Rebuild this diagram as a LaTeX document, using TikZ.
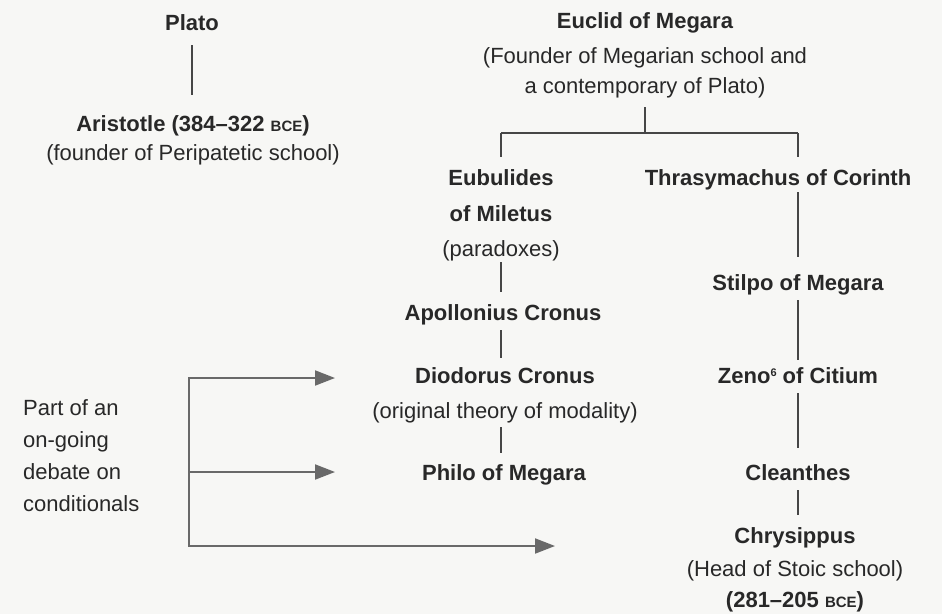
\documentclass[tikz,border=0pt]{standalone}
\usepackage{fontspec}
\setmainfont{Liberation Sans}
\usetikzlibrary{arrows.meta,calc}
\definecolor{paper}{RGB}{247,247,245}
\definecolor{ink}{RGB}{40,40,40}
\definecolor{linec}{RGB}{70,70,70}
\definecolor{arrc}{RGB}{105,105,105}
\newcommand{\mybce}{{\fontsize{15}{15}\selectfont BCE}}
\newcommand{\mysup}[1]{\raisebox{7pt}{\fontsize{11}{11}\selectfont #1}}
\tikzset{
  txt/.style={inner sep=0pt, anchor=base, text height=16pt, text depth=5pt, text=ink, font=\fontsize{22}{26}\selectfont},
  pname/.style={txt, font=\fontsize{22}{26}\selectfont\bfseries},
  lefttxt/.style={txt, anchor=base west},
  conn/.style={draw=linec, line width=1.1pt},
  arrline/.style={draw=arrc, line width=2pt},
  arrtip/.style={arrline, -{Triangle[length=20pt,width=15pt]}},
}
\begin{document}
\begin{tikzpicture}[x=1pt,y=-1pt]
\fill[paper] (0,0) rectangle (942,614);
\useasboundingbox (0,0) rectangle (942,614);

% left column
\node[pname] (plato) at (192,30) {Plato};
\node[pname] (aris) at (193,131) {Aristotle (384--322 \mybce)};
\node[txt] (arisB) at (193,160) {(founder of Peripatetic school)};

% Euclid
\node[pname] (euclid) at (645,28) {Euclid of Megara};
\node[txt] (euclidB) at (645,63) {(Founder of Megarian school and};
\node[txt] (euclidC) at (645,93) {a contemporary of Plato)};

% middle column
\node[pname] (eub) at (501,185) {Eubulides};
\node[pname] (eubB) at (501,221) {of Miletus};
\node[txt] (eubC) at (501,256) {(paradoxes)};
\node[pname] (apol) at (503,320) {Apollonius Cronus};
\node[pname] (diod) at (505,383) {Diodorus Cronus};
\node[txt] (diodB) at (505,418) {(original theory of modality)};
\node[pname] (philo) at (504,480) {Philo of Megara};

% right column
\node[pname] (thra) at (778,185) {Thrasymachus of Corinth};
\node[pname] (stil) at (798,290) {Stilpo of Megara};
\node[pname] (zeno) at (798,383) {Zeno\mysup{6} of Citium};
\node[pname] (clean) at (798,480) {Cleanthes};
\node[pname] (chry) at (795,543) {Chrysippus};
\node[txt] (chryB) at (795,576) {(Head of Stoic school)};
\node[pname] (chryC) at (795,607) {(281--205 \mybce)};

% left note
\node[lefttxt] (deb1) at (23,415) {Part of an};
\node[lefttxt] (deb2) at (23,447) {on-going};
\node[lefttxt] (deb3) at (23,479) {debate on};
\node[lefttxt] (deb4) at (23,511) {conditionals};

% connectors
\draw[conn, shorten <=10pt, shorten >=20pt] (plato.south) -- (plato.south |- aris.north);

\coordinate (jm) at (645,133);
\coordinate (jl) at (501,133);
\coordinate (jr) at (798,133);
\draw[conn, shorten <=9pt] (euclidC.south) -- (jm);
\draw[conn] (jl) -- (jr);
\draw[conn, shorten >=12pt] (jl) -- (eub.north);
\draw[conn, shorten >=12pt] (jr) -- (jr |- thra.north);

\draw[conn, shorten <=2pt, shorten >=17pt] (thra.south -| stil.north) -- (stil.north);
\draw[conn, shorten <=5pt, shorten >=7pt] (stil.south) -- (zeno.north);
\draw[conn, shorten <=5pt, shorten >=16pt] (zeno.south) -- (clean.north);
\draw[conn, shorten <=5pt, shorten >=12pt] (clean.south) -- (clean.south |- chry.north);

\draw[conn, shorten <=1pt, shorten >=12pt] (eubC.south) -- (eubC.south |- apol.north);
\draw[conn, shorten <=5pt, shorten >=9pt] (apol.south -| eubC.south) -- (diod.north -| eubC.south);
\draw[conn, shorten <=4pt, shorten >=11pt] (diodB.south -| eubC.south) -- (philo.north -| eubC.south);

% arrows
\coordinate (a1) at (189,378);
\coordinate (a2) at (189,472);
\coordinate (a3) at (189,546);
\coordinate (t1) at (335,378);
\coordinate (t2) at (335,472);
\coordinate (t3) at (555,546);
\draw[arrline, line cap=rect] (a1) -- (a3);
\draw[arrtip] (a1) -- (t1);
\draw[arrtip] (a2) -- (t2);
\draw[arrtip] (a3) -- (t3);
\end{tikzpicture}
\end{document}
